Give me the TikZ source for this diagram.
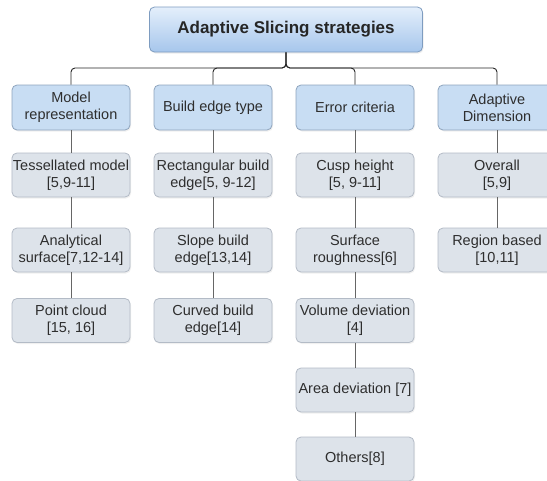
\documentclass[tikz,border=0pt]{standalone}
\usepackage{fontspec}
\setmainfont{Liberation Sans}
\usetikzlibrary{shadows}

\definecolor{rootTop}{HTML}{E4EFFB}
\definecolor{rootBot}{HTML}{A6C6EC}
\definecolor{rootEdge}{HTML}{7E9CC0}
\definecolor{catFill}{HTML}{C8DDF3}
\definecolor{catEdge}{HTML}{8EA4BD}
\definecolor{itemFill}{HTML}{DDE3EA}
\definecolor{itemEdge}{HTML}{B3BBC6}
\definecolor{txt}{HTML}{2E2E2E}

\begin{document}
\begin{tikzpicture}[x=1pt,y=-1pt,
    rootbox/.style={draw=rootEdge, line width=0.8pt, rounded corners=5pt,
        top color=rootTop, bottom color=rootBot,
        minimum width=273pt, minimum height=45pt,
        drop shadow={opacity=0.15, shadow xshift=1pt, shadow yshift=-1.5pt},
        font=\bfseries\fontsize{17}{19}\selectfont, text=black!85},
    catbox/.style={draw=catEdge, line width=0.8pt, fill=catFill, rounded corners=5pt,
        minimum width=118pt, minimum height=45pt, align=center, inner xsep=1pt,
        drop shadow={opacity=0.12, shadow xshift=1pt, shadow yshift=-1.5pt},
        font=\fontsize{14.5}{17}\selectfont, text=txt},
    itembox/.style={catbox, draw=itemEdge, fill=itemFill, minimum height=44pt},
    toplink/.style={draw=black!85, line width=0.9pt, rounded corners=4pt},
    sublink/.style={draw=black!60, line width=0.9pt}
]
\useasboundingbox (0,0) rectangle (547,480);

% Root and categories %
\node[rootbox] (root) at (286,29.5) {Adaptive Slicing strategies};
\node[catbox] (model) at (71,107.5) {Model\\representation};
\node[catbox] (edge) at (213,107.5) {Build edge type};
\node[catbox] (error) at (355,107.5) {Error criteria};
\node[catbox] (dim) at (497,107.5) {Adaptive\\Dimension};

% Model representation %
\node[itembox] (tess) at (71,175) {Tessellated model\\{}[5,9-11]};
\node[itembox] (analyt) at (71,250) {Analytical\\surface[7,12-14]};
\node[itembox] (cloud) at (71,320.5) {Point cloud\\{}[15, 16]};

% Build edge type %
\node[itembox] (rect) at (213,175) {Rectangular build\\edge[5, 9-12]};
\node[itembox] (slope) at (213,250) {Slope build\\edge[13,14]};
\node[itembox] (curved) at (213,320.5) {Curved build\\edge[14]};

% Error criteria %
\node[itembox] (cusp) at (355,175) {Cusp height\\{}[5, 9-11]};
\node[itembox] (rough) at (355,250) {Surface\\roughness[6]};
\node[itembox] (volume) at (355,320.5) {Volume deviation\\{}[4]};
\node[itembox] (area) at (355,390) {Area deviation [7]};
\node[itembox] (others) at (355,459) {Others[8]};

% Adaptive dimension %
\node[itembox] (overall) at (497,175) {Overall\\{}[5,9]};
\node[itembox] (region) at (497,250) {Region based\\{}[10,11]};

% Connectors %
\coordinate (bar) at (286,68);
\foreach \c in {model,edge,error,dim}
    \draw[toplink] (root.south) -- (bar) -| (\c.north);
\foreach \a/\b in {model/tess,tess/analyt,analyt/cloud,
                   edge/rect,rect/slope,slope/curved,
                   error/cusp,cusp/rough,rough/volume,volume/area,area/others,
                   dim/overall,overall/region}
    \draw[sublink] (\a.south) -- (\b.north);
\end{tikzpicture}
\end{document}
